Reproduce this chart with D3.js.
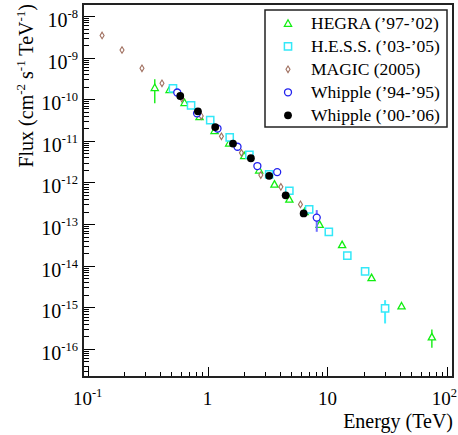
<!DOCTYPE html>
<html><head><meta charset="utf-8">
<script src="https://cdn.jsdelivr.net/npm/d3@7"></script>
<style>
body{margin:0;background:#fff}
svg{display:block}
text{font-family:"Liberation Serif","Times New Roman",serif;fill:#000}
</style>
</head><body>
<svg id="c" width="458" height="435"></svg>
<script>
// ---------- data (Energy in TeV, Flux in cm^-2 s^-1 TeV^-1) ----------
const hegraE = [0.363, 0.4825, 0.643, 0.858, 1.144, 1.516, 2.022, 2.697, 3.617, 4.814, 6.457, 8.61, 13.26, 23.35, 41.52, 74.3];
const hegraF = [1.91e-10, 1.71e-10, 8.33e-11, 3.80e-11, 1.77e-11, 8.86e-12, 4.43e-12, 1.99e-12, 9.15e-13, 3.99e-13, 2.0e-13, 9.83e-14, 3.21e-14, 5.17e-15, 1.08e-15, 1.95e-16];
const hegraLo = [7.97e-11, null, null, null, null, null, null, null, null, null, null, null, null, null, null, 1.074e-16];
const hegraHi = [3.01e-10, null, null, null, null, null, null, null, null, null, null, null, null, null, null, 2.94e-16];

const hessE = [0.515, 0.729, 1.053, 1.531, 2.235, 3.267, 4.814, 7.04, 10.27, 14.65, 20.62, 30.26];
const hessF = [1.83e-10, 7.13e-11, 3.16e-11, 1.214e-11, 4.63e-12, 1.566e-12, 6.32e-13, 2.257e-13, 6.53e-14, 1.749e-14, 7.29e-15, 9.41e-16];
const hessLo = [null, null, null, null, null, null, null, null, null, null, null, 4.10e-16];
const hessHi = [null, null, null, null, null, null, null, null, null, null, null, 1.49e-15];

const magicE = [0.132, 0.1935, 0.284, 0.417, 0.610, 0.886, 1.306, 1.917, 2.782, 4.09, 5.957];
const magicF = [3.40e-9, 1.523e-9, 5.53e-10, 2.41e-10, 1.04e-10, 3.95e-11, 1.283e-11, 5.15e-12, 1.507e-12, 7.84e-13, 2.976e-13];

const whip94E = [0.5591, 0.8176, 1.2115, 1.778, 2.605, 3.81, 8.145];
const whip94F = [1.449e-10, 4.58e-11, 1.976e-11, 7.21e-12, 2.48e-12, 1.778e-12, 1.433e-13];
const whip94Lo = [null, null, null, null, null, null, 6.53e-14];
const whip94Hi = [null, null, null, null, null, null, 2.17e-13];

const whip00E = [0.5923, 0.8318, 1.159, 1.631, 2.300, 3.267, 4.485, 6.336];
const whip00F = [1.194e-10, 5.12e-11, 2.146e-11, 8.61e-12, 3.82e-12, 1.442e-12, 4.92e-13, 1.808e-13];

const legendLabels = ["HEGRA (\u201997-\u201902)", "H.E.S.S. (\u201903-\u201905)", "MAGIC (2005)", "Whipple (\u201994-\u201995)", "Whipple (\u201900-\u201906)"];

const xTickValues = [0.1, 1, 10, 100];
const xTickBase = ["10", "1", "10", "10"];
const xTickSup = ["-1", "", "", "2"];
const yTickExps = [-8, -9, -10, -11, -12, -13, -14, -15, -16];

// ---------- layout ----------
const L = 83, R = 453, T = 4, B = 377;
const W = 458;
const svg = d3.select("#c");
const x = d3.scaleLog().domain([0.0915, 111.5]).range([L, R]);
const y = d3.scaleLog().domain([2.12e-17, 1.94e-8]).range([B, T]);

// ---------- ticks ----------
const tickG = svg.append("g").attr("stroke", "#000").attr("stroke-width", 1).attr("shape-rendering", "crispEdges");
for (let e = -2; e <= 2; e++) {
  for (let m = 1; m <= 9; m++) {
    const v = m * Math.pow(10, e);
    const px = x(v);
    if (px < L + 0.5 || px > R - 0.5) continue;
    const len = m === 1 ? 10 : 5;
    tickG.append("line").attr("x1", Math.round(px) + 0.5).attr("x2", Math.round(px) + 0.5).attr("y1", B).attr("y2", B - len);
  }
}
for (let e = -18; e <= -7; e++) {
  for (let m = 1; m <= 9; m++) {
    const v = m * Math.pow(10, e);
    const py = y(v);
    if (py < T + 0.5 || py > B - 0.5) continue;
    const len = m === 1 ? 12 : 6;
    tickG.append("line").attr("x1", L).attr("x2", L + len).attr("y1", Math.round(py) + 0.5).attr("y2", Math.round(py) + 0.5);
  }
}

// ---------- frame ----------
svg.append("rect").attr("x", L).attr("y", T).attr("width", R - L).attr("height", B - T)
  .attr("fill", "none").attr("stroke", "#222").attr("stroke-width", 2);

// ---------- tick labels ----------
xTickValues.forEach((v, i) => {
  const t = svg.append("text").attr("x", x(v)).attr("y", 405).attr("text-anchor", "middle").attr("font-size", 19);
  t.append("tspan").text(xTickBase[i]);
  if (xTickSup[i]) t.append("tspan").attr("dy", -8).attr("font-size", 12.5).text(xTickSup[i]);
  // keep the label inside the picture
  const bb = t.node().getBBox();
  if (bb.x + bb.width > W - 1) t.attr("x", x(v) - (bb.x + bb.width - (W - 1)));
});
yTickExps.forEach(e => {
  const py = y(Math.pow(10, e));
  const t = svg.append("text").attr("x", 78).attr("y", py + 11).attr("text-anchor", "end").attr("font-size", 20);
  t.append("tspan").text("10");
  t.append("tspan").attr("dy", -9).attr("font-size", 12.5).text(String(e));
});

// ---------- axis titles ----------
svg.append("text").attr("x", 453).attr("y", 428).attr("text-anchor", "end").attr("font-size", 20).text("Energy (TeV)");
const yt = svg.append("text").attr("transform", "translate(33,4) rotate(-90)").attr("text-anchor", "end").attr("font-size", 20);
yt.append("tspan").text("Flux (cm");
yt.append("tspan").attr("dy", -8).attr("font-size", 13).text("-2");
yt.append("tspan").attr("dy", 8).text(" s");
yt.append("tspan").attr("dy", -8).attr("font-size", 13).text("-1");
yt.append("tspan").attr("dy", 8).text(" TeV");
yt.append("tspan").attr("dy", -8).attr("font-size", 13).text("-1");
yt.append("tspan").attr("dy", 8).text(")");

// ---------- markers ----------
const shapes = {
  tri: "M0,-3.5L3.6,3L-3.6,3Z",
  sq: "M-3.6,-3.6H3.6V3.6H-3.6Z",
  dia: "M0,-3.3L2,0L0,3.3L-2,0Z"
};
function errBars(E, Lo, Hi, color, w) {
  const g = svg.append("g").attr("stroke", color).attr("stroke-width", w);
  E.forEach((e, i) => {
    if (Lo[i] == null) return;
    g.append("line").attr("x1", x(e)).attr("x2", x(e)).attr("y1", y(Lo[i])).attr("y2", y(Hi[i]));
  });
}
function pathSeries(E, F, d, color, w) {
  svg.append("g").selectAll("path").data(E).join("path")
    .attr("d", d).attr("transform", (e, i) => `translate(${x(e)},${y(F[i])})`)
    .attr("fill", "#fff").attr("stroke", color).attr("stroke-width", w);
}
errBars(hegraE, hegraLo, hegraHi, "#22ee22", 1.5);
pathSeries(hegraE, hegraF, shapes.tri, "#11ee11", 1.3);
errBars(hessE, hessLo, hessHi, "#44eeff", 2);
pathSeries(hessE, hessF, shapes.sq, "#33e8f8", 1.5);
pathSeries(magicE, magicF, shapes.dia, "#a07060", 1.1);
errBars(whip94E, whip94Lo, whip94Hi, "#7070ff", 2);
svg.append("g").selectAll("circle").data(whip94E).join("circle")
  .attr("cx", e => x(e)).attr("cy", (e, i) => y(whip94F[i])).attr("r", 3.5)
  .attr("fill", "#fff").attr("stroke", "#2222ee").attr("stroke-width", 1.3);
svg.append("g").selectAll("circle").data(whip00E).join("circle")
  .attr("cx", e => x(e)).attr("cy", (e, i) => y(whip00F[i])).attr("r", 3.9)
  .attr("fill", "#000");

// ---------- legend ----------
const lg = svg.append("g");
lg.append("rect").attr("x", 265).attr("y", 10).attr("width", 182).attr("height", 117)
  .attr("fill", "#fff").attr("stroke", "#222").attr("stroke-width", 1.5);
const rowY = i => 23.3 + i * 23;
lg.append("path").attr("d", shapes.tri).attr("transform", `translate(288,${rowY(0)})`).attr("fill", "none").attr("stroke", "#11ee11").attr("stroke-width", 1.3);
lg.append("path").attr("d", shapes.sq).attr("transform", `translate(288,${rowY(1)})`).attr("fill", "none").attr("stroke", "#33e8f8").attr("stroke-width", 1.5);
lg.append("path").attr("d", shapes.dia).attr("transform", `translate(288,${rowY(2)})`).attr("fill", "none").attr("stroke", "#a07060").attr("stroke-width", 1.1);
lg.append("circle").attr("cx", 288).attr("cy", rowY(3)).attr("r", 3.5).attr("fill", "none").attr("stroke", "#2222ee").attr("stroke-width", 1.3);
lg.append("circle").attr("cx", 288).attr("cy", rowY(4)).attr("r", 3.9).attr("fill", "#000");
legendLabels.forEach((s, i) => {
  lg.append("text").attr("x", 311).attr("y", rowY(i) + 6).attr("font-size", 17.5).text(s);
});
</script>
</body></html>
